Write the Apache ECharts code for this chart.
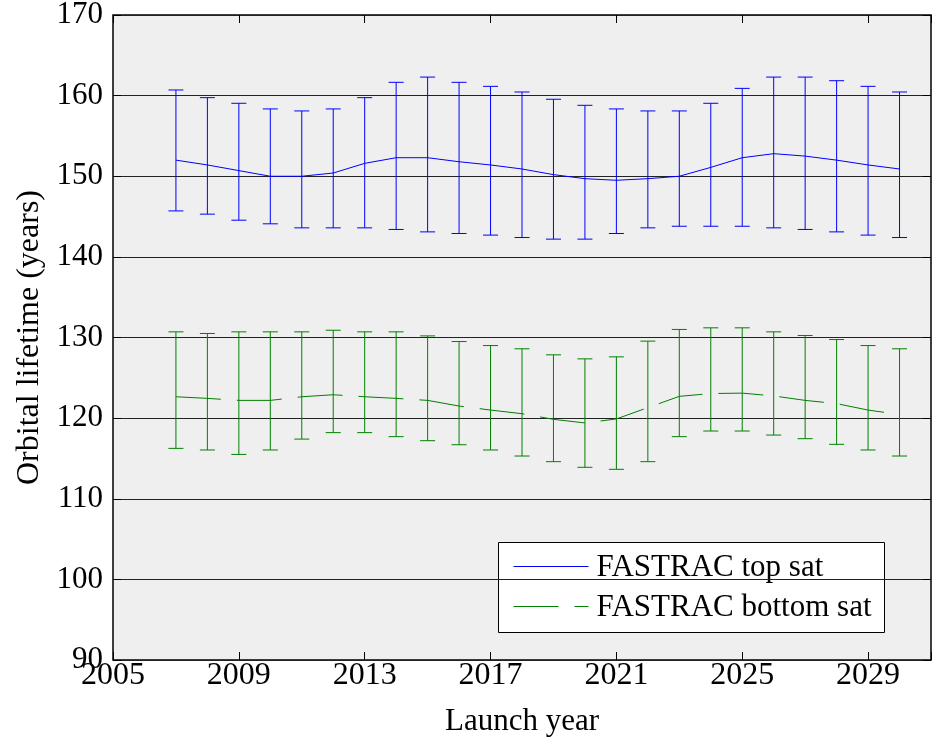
<!DOCTYPE html>
<html>
<head>
<meta charset="utf-8">
<title>Orbital lifetime vs launch year</title>
<script src="https://cdn.jsdelivr.net/npm/echarts@6/dist/echarts.min.js"></script>
<style>
  html, body { margin: 0; padding: 0; background: #fff; }
  #chart { width: 937px; height: 744px; }
</style>
</head>
<body>
<div id="chart"></div>
<script>
// Launch years
const years = [2007, 2008, 2009, 2010, 2011, 2012, 2013, 2014, 2015, 2016, 2017, 2018,
               2019, 2020, 2021, 2022, 2023, 2024, 2025, 2026, 2027, 2028, 2029, 2030];

// FASTRAC top sat: mean lifetime and error-bar bounds (years)
const topMean  = [152.0, 151.4, 150.7, 150.0, 150.0, 150.4, 151.6, 152.3, 152.3, 151.8, 151.4, 150.9,
                  150.2, 149.7, 149.5, 149.7, 150.0, 151.1, 152.3, 152.8, 152.5, 152.0, 151.4, 150.9];
const topUpper = [160.7, 159.75, 159.05, 158.35, 158.1, 158.35, 159.75, 161.65, 162.3, 161.65, 161.15, 160.45,
                  159.55, 158.8, 158.35, 158.1, 158.1, 159.05, 160.9, 162.3, 162.3, 161.85, 161.15, 160.45];
const topLower = [145.7, 145.3, 144.55, 144.1, 143.6, 143.6, 143.6, 143.4, 143.1, 142.9, 142.7, 142.4,
                  142.2, 142.2, 142.9, 143.6, 143.8, 143.8, 143.8, 143.6, 143.4, 143.1, 142.7, 142.4];

// FASTRAC bottom sat: mean lifetime and error-bar bounds (years)
const botMean  = [122.65, 122.45, 122.2, 122.2, 122.65, 122.9, 122.65, 122.45, 122.2, 121.5, 121.0, 120.55,
                  119.85, 119.4, 119.9, 121.3, 122.7, 123.05, 123.1, 122.75, 122.2, 121.8, 121.0, 120.45];
const botUpper = [130.7, 130.5, 130.7, 130.7, 130.7, 130.9, 130.7, 130.7, 130.2, 129.5, 129.0, 128.6,
                  127.85, 127.35, 127.6, 129.55, 131.0, 131.2, 131.2, 130.7, 130.25, 129.75, 129.0, 128.6];
const botLower = [116.25, 116.05, 115.5, 116.05, 117.4, 118.2, 118.2, 117.7, 117.2, 116.7, 116.05, 115.3,
                  114.6, 113.9, 113.65, 114.6, 117.7, 118.4, 118.4, 117.9, 117.45, 116.75, 116.05, 115.3];

const seriesNames = ['FASTRAC top sat', 'FASTRAC bottom sat'];
const xLabelYears = [2005, 2009, 2013, 2017, 2021, 2025, 2029];

const FONT = "'Liberation Serif', 'Times New Roman', serif";
const BLUE = '#0000ff';
const GREEN = '#008000';

const chart = echarts.init(document.getElementById('chart'), null, { renderer: 'canvas' });

// Vertical error bar with short horizontal caps at both ends
function errorBarItem(color) {
  return function (params, api) {
    const x = api.value(0);
    const hi = api.coord([x, api.value(1)]);
    const lo = api.coord([x, api.value(2)]);
    const cap = 7.5;
    const style = { stroke: color, lineWidth: 1 };
    return {
      type: 'group',
      children: [
        { type: 'line', shape: { x1: hi[0], y1: hi[1], x2: lo[0], y2: lo[1] }, style: style },
        { type: 'line', shape: { x1: hi[0] - cap, y1: hi[1], x2: hi[0] + cap, y2: hi[1] }, style: style },
        { type: 'line', shape: { x1: lo[0] - cap, y1: lo[1], x2: lo[0] + cap, y2: lo[1] }, style: style }
      ]
    };
  };
}

const zip2 = (a) => years.map((y, i) => [y, a[i]]);
const zip3 = (a, b) => years.map((y, i) => [y, a[i], b[i]]);

const xCommon = {
  type: 'value', min: 2005, max: 2031, interval: 4,
  splitLine: { show: false },
  axisLine: { show: false },
  axisTick: { show: true, inside: true, length: 8, lineStyle: { color: '#000', width: 1 } }
};
const yCommon = {
  type: 'value', min: 90, max: 170, interval: 10,
  axisLine: { show: false },
  axisTick: { show: true, inside: true, length: 8, lineStyle: { color: '#000', width: 1 } }
};

chart.setOption({
  animation: false,
  backgroundColor: '#ffffff',
  grid: {
    left: 113, right: 6, top: 15, bottom: 84,
    containLabel: false, outerBoundsMode: 'none',
    show: true, backgroundColor: '#efefef', borderColor: '#000', borderWidth: 1.5
  },
  xAxis: [
    Object.assign({}, xCommon, {
      position: 'bottom',
      name: 'Launch year', nameLocation: 'middle', nameGap: 46,
      nameTextStyle: { fontFamily: FONT, fontSize: 31, color: '#000' },
      axisLabel: {
        fontFamily: FONT, fontSize: 32, color: '#000', margin: 0,
        formatter: v => (xLabelYears.indexOf(v) >= 0 ? String(v) : '')
      }
    }),
    Object.assign({}, xCommon, { position: 'top', axisLabel: { show: false } })
  ],
  yAxis: [
    Object.assign({}, yCommon, {
      position: 'left',
      name: 'Orbital lifetime (years)', nameLocation: 'middle', nameGap: 67,
      nameTextStyle: { fontFamily: FONT, fontSize: 32, color: '#000' },
      axisLabel: { fontFamily: FONT, fontSize: 31, color: '#000', margin: 10 },
      splitLine: { show: true, lineStyle: { color: '#222', width: 1 } }
    }),
    Object.assign({}, yCommon, {
      position: 'right', axisLabel: { show: false }, splitLine: { show: false }
    })
  ],
  series: [
    {
      name: seriesNames[0], type: 'line', data: zip2(topMean),
      showSymbol: false, symbol: 'none',
      lineStyle: { color: BLUE, width: 1 }, z: 3
    },
    {
      name: seriesNames[0] + ' range', type: 'custom', data: zip3(topUpper, topLower),
      renderItem: errorBarItem(BLUE), z: 3
    },
    {
      name: seriesNames[1], type: 'line', data: zip2(botMean),
      showSymbol: false, symbol: 'none',
      lineStyle: { color: GREEN, width: 1, type: [45, 16] }, z: 3
    },
    {
      name: seriesNames[1] + ' range', type: 'custom', data: zip3(botUpper, botLower),
      renderItem: errorBarItem(GREEN), z: 3
    }
  ],
  graphic: [
    {
      type: 'group', left: 498, top: 542, z: 100,
      children: [
        { type: 'rect', shape: { x: 0, y: 0, width: 386, height: 90 },
          style: { fill: '#ffffff', stroke: '#000', lineWidth: 1 } },
        { type: 'line', shape: { x1: 15, y1: 24, x2: 90, y2: 24 },
          style: { stroke: BLUE, lineWidth: 1 } },
        { type: 'text', x: 98, y: 25,
          style: { text: seriesNames[0], fontFamily: FONT, fontSize: 31, fill: '#000', verticalAlign: 'middle' } },
        { type: 'line', shape: { x1: 15, y1: 64, x2: 90, y2: 64 },
          style: { stroke: GREEN, lineWidth: 1, lineDash: [45, 16] } },
        { type: 'text', x: 98, y: 65,
          style: { text: seriesNames[1], fontFamily: FONT, fontSize: 31, fill: '#000', verticalAlign: 'middle' } }
      ]
    }
  ]
});
</script>
</body>
</html>
